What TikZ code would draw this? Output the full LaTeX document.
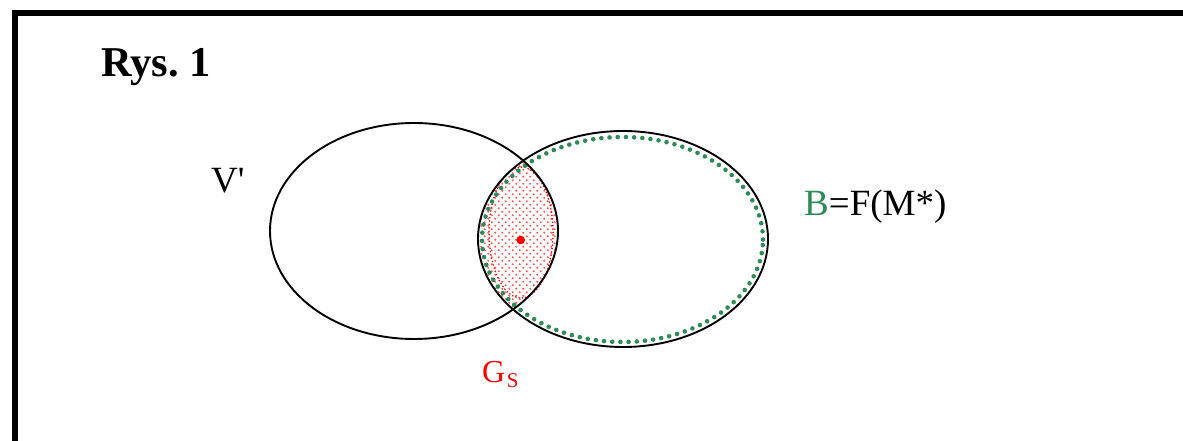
\documentclass[tikz,border=0pt]{standalone}
\usepackage{fontspec}
\setmainfont{Liberation Serif}
\usetikzlibrary{patterns.meta}
\definecolor{sgreen}{RGB}{46,139,87}
\tikzdeclarepattern{
  name=mydots,
  type=uncolored,
  bottom left={(-.1pt,-.1pt)},
  top right={(7.1pt,7.1pt)},
  tile size={(7pt,7pt)},
  code={\fill (1.75pt,1.75pt) circle (1.1pt); \fill (5.25pt,5.25pt) circle (1.1pt);}
}
\tikzset{
  setline/.style={draw=black, line width=1.9pt},
  greendots/.style={draw=sgreen, line width=4.6pt, line cap=round, dash pattern=on 0pt off 8.2pt},
  reddots/.style={draw=red, line width=1.8pt, line cap=round, dash pattern=on 0pt off 3.4pt},
  lbl/.style={inner sep=0pt, anchor=base west},
}
\begin{document}
\frenchspacing
\begin{tikzpicture}[x=1pt,y=-1pt]
\useasboundingbox (0,0) rectangle (1183,441);
\draw[line width=6pt] (15,441) -- (15,13) -- (1183,13);
% shaded intersection
\begin{scope}
  \clip (414,231) ellipse [x radius=144pt, y radius=108pt];
  \fill[pattern=mydots, pattern color=red!65] (623,239) ellipse [x radius=145pt, y radius=108pt];
\end{scope}
\draw[reddots] (521,232.5) ellipse [x radius=32pt, y radius=65.5pt];
\draw[greendots] (622.5,239.5) ellipse [x radius=140.5pt, y radius=102.5pt];
\draw[setline] (414,231) ellipse [x radius=144pt, y radius=108pt];
\draw[setline] (623,239) ellipse [x radius=145pt, y radius=108pt];
\fill[red] (520.7,240) circle (4.3pt);
% labels
\node[lbl] (title) at (101,77) {\fontsize{42.5}{46}\selectfont\bfseries Rys. 1};
\node[lbl] (vp) at (211,192) {\fontsize{37}{40}\selectfont V\textquotesingle};
\node[lbl] (bf) at (804,215) {\fontsize{37}{40}\selectfont\textcolor{sgreen}{B}=F(M*)};
\node[lbl, text=red] (gs) at (482,382) {\fontsize{32}{36}\selectfont G\hspace{1.5pt}\raisebox{-5pt}{\fontsize{21}{24}\selectfont S}};
\end{tikzpicture}
\end{document}
